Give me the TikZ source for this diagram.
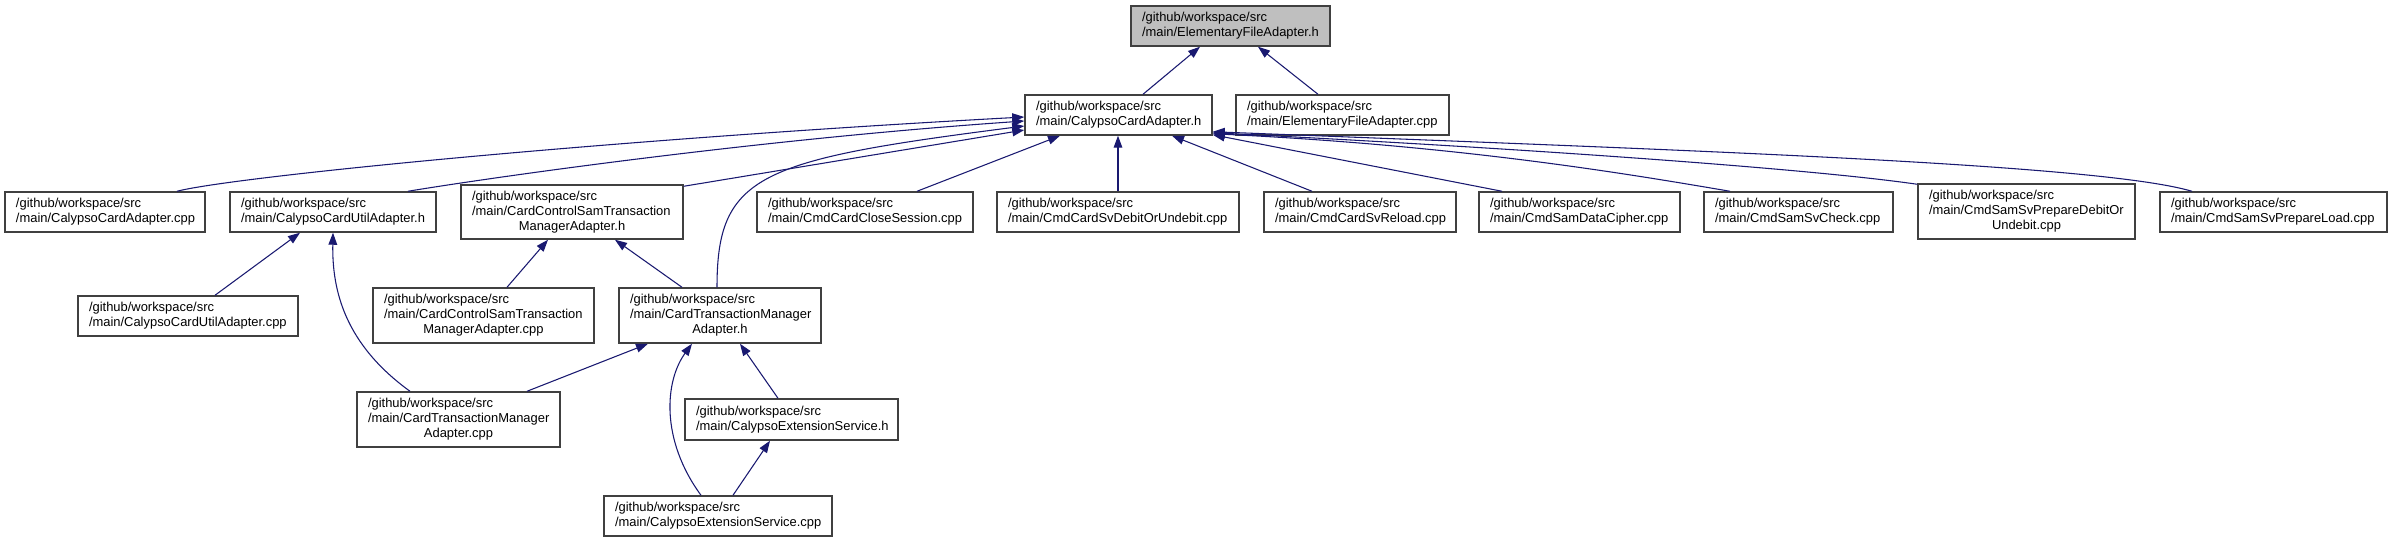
\documentclass[tikz,border=0pt]{standalone}
\usepackage{fontspec}
\setmainfont{Liberation Sans}
\usetikzlibrary{arrows.meta, calc}
\definecolor{DoxEdge}{HTML}{191970}
\definecolor{DoxLine}{HTML}{404040}
\definecolor{DoxRoot}{HTML}{BFBFBF}
\newcommand{\gws}{/github/workspace/src}
\newcommand{\lastln}[1]{\hspace*{\fill}#1\hspace*{\fill}}
\tikzset{
    filebox/.style={
        draw=DoxLine,
        fill=#1,
        line width=1.1pt,
        text=black,
        font=\fontsize{9.7}{11.25}\selectfont,
        align=left,
        inner sep=0pt
    },
    filebox/.default=white,
    boxsize/.style 2 args={
        minimum width=#1*0.75pt,
        text width=#1*0.75pt-16.5pt,
        minimum height=#2*0.75pt
    },
    dep/.style={
        -{Triangle[length=9pt,width=6.5pt]},
        line width=0.8pt,
        DoxEdge
    }
}

\begin{document}
\begin{tikzpicture}[x=0.75pt, y=-0.75pt]
    \useasboundingbox (0,0) rectangle (2392,543);

    % Root header
    \node[filebox=DoxRoot, boxsize={199}{40}] (root) at (1230.5,26) {\gws\\/main/ElementaryFileAdapter.h};

    % First level
    \node[filebox, boxsize={187}{40}] (cca_h) at (1118.5,115) {\gws\\/main/CalypsoCardAdapter.h};
    \node[filebox, boxsize={213}{40}] (efa_cpp) at (1342.5,115) {\gws\\/main/ElementaryFileAdapter.cpp};

    % Second level
    \node[filebox, boxsize={200}{40}] (cca_cpp) at (105,212) {\gws\\/main/CalypsoCardAdapter.cpp};
    \node[filebox, boxsize={206}{40}] (ccua_h) at (333,212) {\gws\\/main/CalypsoCardUtilAdapter.h};
    \node[filebox, boxsize={222}{54}] (ccsam_h) at (572,212) {\gws\\/main/CardControlSamTransaction\\\lastln{ManagerAdapter.h}};
    \node[filebox, boxsize={216}{40}] (closesess) at (865,212) {\gws\\/main/CmdCardCloseSession.cpp};
    \node[filebox, boxsize={242}{40}] (svdebit) at (1118,212) {\gws\\/main/CmdCardSvDebitOrUndebit.cpp};
    \node[filebox, boxsize={192}{40}] (svreload) at (1360,212) {\gws\\/main/CmdCardSvReload.cpp};
    \node[filebox, boxsize={201}{40}] (datacipher) at (1579.5,212) {\gws\\/main/CmdSamDataCipher.cpp};
    \node[filebox, boxsize={189}{40}] (svcheck) at (1798.5,212) {\gws\\/main/CmdSamSvCheck.cpp};
    \node[filebox, boxsize={217}{55}] (prepdebit) at (2026.5,211.5) {\gws\\/main/CmdSamSvPrepareDebitOr\\\lastln{Undebit.cpp}};
    \node[filebox, boxsize={227}{40}] (prepload) at (2273.5,212) {\gws\\/main/CmdSamSvPrepareLoad.cpp};

    % Third level
    \node[filebox, boxsize={220}{40}] (ccua_cpp) at (188,316) {\gws\\/main/CalypsoCardUtilAdapter.cpp};
    \node[filebox, boxsize={221}{55}] (ccsam_cpp) at (483.5,315.5) {\gws\\/main/CardControlSamTransaction\\\lastln{ManagerAdapter.cpp}};
    \node[filebox, boxsize={202}{55}] (ctma_h) at (720,315.5) {\gws\\/main/CardTransactionManager\\\lastln{Adapter.h}};

    % Fourth and fifth level
    \node[filebox, boxsize={203}{55}] (ctma_cpp) at (458.5,419.5) {\gws\\/main/CardTransactionManager\\\lastln{Adapter.cpp}};
    \node[filebox, boxsize={213}{41}] (ces_h) at (791.5,419.5) {\gws\\/main/CalypsoExtensionService.h};
    \node[filebox, boxsize={228}{40}] (ces_cpp) at (718,516) {\gws\\/main/CalypsoExtensionService.cpp};

    % Edges to the root
    \draw[dep] ($(cca_h.north)+(24.5,0)$) -- ($(root.south)+(-30.5,0)$);
    \draw[dep] ($(efa_cpp.north)+(-24.5,0)$) -- ($(root.south)+(27.5,0)$);

    % Edges to CalypsoCardAdapter.h
    \draw[dep] ($(cca_cpp.north)+(72,0)$) .. controls +(53,-14) and +(-425,23) .. ($(cca_h.west)+(0,2)$);
    \draw[dep] ($(ccua_h.north)+(75,0)$) .. controls +(72,-12) and +(-275,19) .. ($(cca_h.west)+(0,6)$);
    \draw[dep] ($(ccsam_h.north east)+(0,2)$) -- ($(cca_h.west)+(0,15)$);
    \draw[dep] ($(ctma_h.north)+(-3,0)$) .. controls +(0,-113) and +(-265,34) .. ($(cca_h.west)+(0,11)$);
    \draw[dep] ($(closesess.north)+(52,0)$) -- ($(cca_h.south)+(-58.5,0)$);
    \draw[dep] (svdebit.north) -- (svdebit.north |- cca_h.south);
    \draw[dep] ($(svreload.north)+(-48,0)$) -- ($(cca_h.south)+(53.5,0)$);
    \draw[dep] ($(datacipher.north)+(-77.5,0)$) -- ($(cca_h.south east)+(0,-1)$);
    \draw[dep] ($(svcheck.north)+(-68.5,0)$) .. controls +(-100,-17) and +(250,12) .. ($(cca_h.south east)+(0,-2)$);
    \draw[dep] ($(prepdebit.north west)+(0,1)$) .. controls +(-110,-16) and +(300,15) .. ($(cca_h.south east)+(0,-3)$);
    \draw[dep] ($(prepload.north)+(-81.5,0)$) .. controls +(-92,-27) and +(488,19) .. ($(cca_h.south east)+(0,-4)$);

    % Lower edges
    \draw[dep] ($(ccua_cpp.north)+(27,0)$) -- ($(ccua_h.south)+(-33,0)$);
    \draw[dep] ($(ctma_cpp.north)+(-48.5,0)$) .. controls +(-65,-47) and +(-1,58) .. (ccua_h.south);
    \draw[dep] ($(ccsam_cpp.north)+(23.5,0)$) -- ($(ccsam_h.south)+(-24,0)$);
    \draw[dep] ($(ctma_h.north)+(-38,0)$) -- ($(ccsam_h.south)+(43,0)$);
    \draw[dep] ($(ctma_cpp.north)+(68.5,0)$) -- ($(ctma_h.south)+(-72,0)$);
    \draw[dep] ($(ces_cpp.north)+(-17,0)$) .. controls +(-41,-56) and +(-27,37) .. ($(ctma_h.south)+(-28,0)$);
    \draw[dep] ($(ces_h.north)+(-13.5,0)$) -- ($(ctma_h.south)+(20,0)$);
    \draw[dep] ($(ces_cpp.north)+(15,0)$) -- ($(ces_h.south)+(-21.5,0)$);
\end{tikzpicture}
\end{document}
